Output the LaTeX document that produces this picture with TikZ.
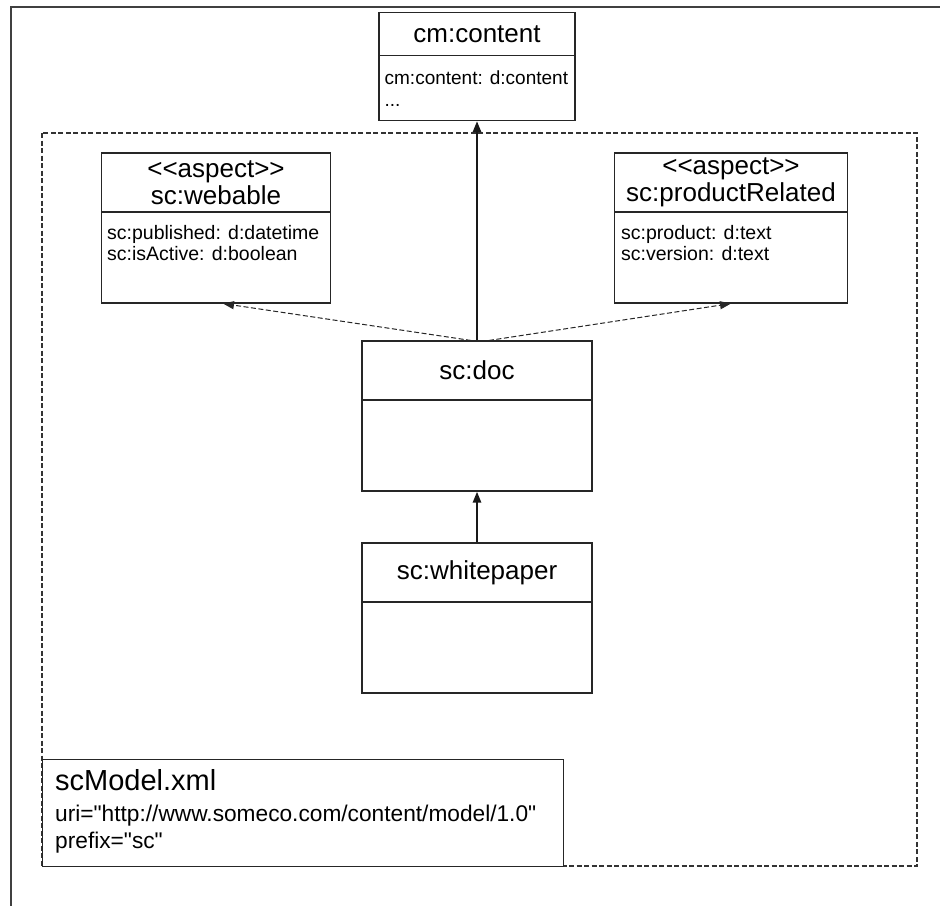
\documentclass[tikz,border=0pt]{standalone}
\usepackage{fontspec}
\setmainfont{Liberation Sans}
\usetikzlibrary{positioning, arrows.meta}

\newcommand\classfont{\fontsize{26}{26.5}\selectfont}
\newcommand\attrfont{\fontsize{19.5}{21}\selectfont}
\newcommand\modelfont{\fontsize{29}{32}\selectfont}
\newcommand\urifont{\fontsize{22.7}{27}\selectfont}

\tikzset{
	classbox/.style={draw=black!85, line width=1.1pt, minimum width=230pt, minimum height=150pt, inner sep=0pt},
	classname/.style={draw=black!85, line width=1.1pt, minimum width=230pt, minimum height=59pt, inner sep=0pt, anchor=north, align=center, font=\classfont},
	classattr/.style={anchor=north west, align=left, font=\attrfont, inner sep=0pt},
	inherit/.style={-{Triangle[length=11pt, width=8pt]}, line width=2.4pt, black!90},
	uses/.style={-{Triangle[length=11pt, width=8pt]}, line width=1pt, dash pattern=on 5pt off 2.5pt, black!85},
	package/.style={line width=1.1pt, dash pattern=on 5pt off 2.5pt, black!80},
}

\begin{document}
\begin{tikzpicture}[x=1pt, y=-1pt]
	\useasboundingbox (0, 0) rectangle (940, 906);

	\draw[black!75, line width=1.3pt] (10, 7) -- (940, 7);  % page edge
	\draw[black!75, line width=1.3pt] (11, 7) -- (11, 906);

	\draw[package] (42, 133) rectangle (917, 866);  % sc package

	% parent type
	\node[classbox, minimum width=196pt, minimum height=108pt] (cm) at (477, 66.5) {};
	\node[classname, minimum width=196pt, minimum height=43pt] (cmname) at (cm.north) {cm:content};
	\node[classattr, font=\fontsize{19}{22}\selectfont] (cmattr) at ([xshift=6pt, yshift=-14pt]cmname.south west) {cm:content: d:content\\...};

	% aspects
	\node[classbox, minimum width=229pt] (webable) at (216, 228) {};
	\node[classname, minimum width=229pt] (webname) at (webable.north) {<{}<aspect>{}>\\sc:webable};
	\node[classattr] (webattr) at ([xshift=6pt, yshift=-13pt]webname.south west) {sc:published: d:datetime\\sc:isActive: d:boolean};

	\node[classbox, minimum width=233pt] (prodrel) at (731, 228) {};
	\node[classname, minimum width=233pt] (prodname) at (prodrel.north) {<{}<aspect>{}>\\sc:productRelated};
	\node[classattr] (prodattr) at ([xshift=7pt, yshift=-13pt]prodname.south west) {sc:product: d:text\\sc:version: d:text};

	% content types
	\node[classbox] (doc) at (477, 416) {};
	\node[classname] (docname) at (doc.north) {sc:doc};

	\node[classbox] (paper) at (477, 618) {};
	\node[classname] (papername) at (paper.north) {sc:whitepaper};

	\draw[inherit] (doc.north) -- (cm.south);
	\draw[inherit] (paper.north) -- (doc.south);
	\draw[uses] ([xshift=-6pt]doc.north) -- ([xshift=7pt]webable.south);
	\draw[uses] ([xshift=12pt]doc.north) -- (prodrel.south);

	% model file
	\node[draw=black!85, fill=white, line width=1.1pt, anchor=north west, minimum width=521pt, minimum height=107pt, inner sep=0pt] (model) at (42, 759) {};
	\node[anchor=north west, align=left, font=\urifont, inner sep=0pt] (modeltext) at ([xshift=13pt, yshift=-10pt]model.north west)
		{{\modelfont scModel.xml}\\[4pt] uri=\textquotedbl http://www.someco.com/content/model/1.0\textquotedbl\\ prefix=\textquotedbl sc\textquotedbl};
\end{tikzpicture}
\end{document}
